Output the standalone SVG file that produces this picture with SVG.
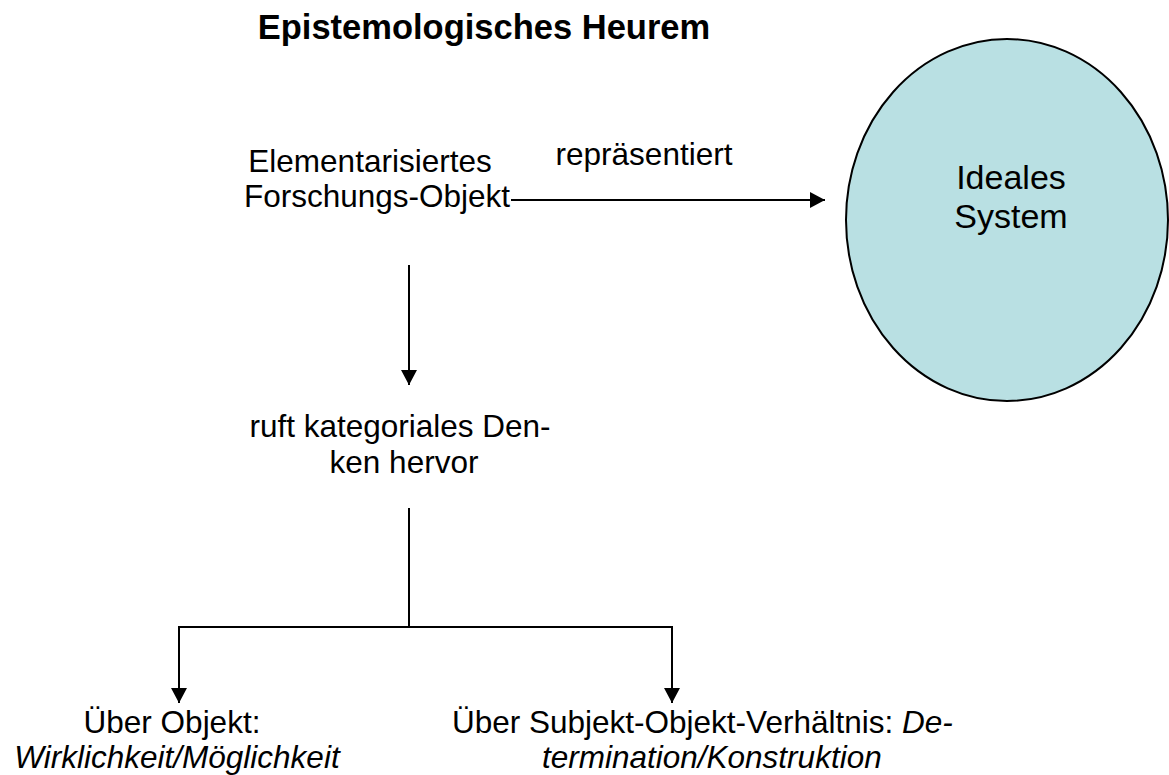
<svg xmlns="http://www.w3.org/2000/svg" width="1169" height="775" viewBox="0 0 1169 775">
<style>
  text { font-family: "Liberation Sans", Arial, sans-serif; font-size: 31.5px; fill: #000; }
  .title { font-weight: bold; font-size: 34.5px; }
  .big { font-size: 34px; }
  .it { font-style: italic; }
  .c { text-anchor: middle; }
  .conn { stroke: #000; stroke-width: 2; fill: none; }
</style>
<defs>
  <marker id="arr" markerUnits="userSpaceOnUse" markerWidth="16" markerHeight="16" refX="15" refY="8" orient="auto">
    <path d="M0,0 L15,8 L0,16 Z" fill="#000"/>
  </marker>
</defs>
<rect width="1169" height="775" fill="#fff"/>
<g id="title"><text class="title c" x="484" y="39">Epistemologisches Heurem</text></g>
<g id="forschungsobjekt">
  <text class="c" x="370" y="172">Elementarisiertes</text>
  <text class="c" x="377" y="207">Forschungs-Objekt</text>
</g>
<g id="ideales-system">
  <ellipse cx="1007" cy="220" rx="161" ry="181" fill="#B9E0E3" stroke="#000" stroke-width="2"/>
  <text class="c big" x="1011" y="189">Ideales</text>
  <text class="c big" x="1011" y="228">System</text>
</g>
<g id="kategoriales-denken">
  <text class="c" x="400" y="437">ruft kategoriales Den-</text>
  <text class="c" x="404" y="473">ken hervor</text>
</g>
<g id="ueber-objekt">
  <text class="c" x="172" y="733">Über Objekt:</text>
  <text class="c it" x="177" y="768">Wirklichkeit/Möglichkeit</text>
</g>
<g id="ueber-subjekt-objekt">
  <text x="452" y="733">Über Subjekt-Objekt-Verhältnis:  <tspan class="it">De-</tspan></text>
  <text class="it" x="542" y="768">termination/Konstruktion</text>
</g>
<g id="connectors">
  <line class="conn" x1="511" y1="200" x2="825" y2="200" marker-end="url(#arr)"/>
  <text class="c" x="644" y="165">repräsentiert</text>
  <line class="conn" x1="409" y1="265" x2="409" y2="385" marker-end="url(#arr)"/>
  <polyline class="conn" points="409,508 409,627"/>
  <polyline class="conn" points="179,703 179,627 672,627 672,703" marker-end="url(#arr)"/>
  <line class="conn" x1="179" y1="627" x2="179" y2="703" marker-end="url(#arr)"/>
</g>
</svg>
